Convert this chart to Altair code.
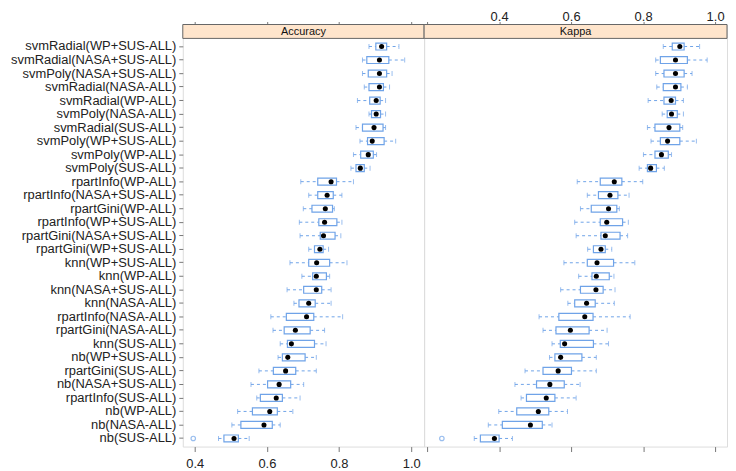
import altair as alt
import pandas as pd

labels = [
    "svmRadial(WP+SUS-ALL)", "svmRadial(NASA+SUS-ALL)", "svmPoly(NASA+SUS-ALL)",
    "svmRadial(NASA-ALL)", "svmRadial(WP-ALL)", "svmPoly(NASA-ALL)",
    "svmRadial(SUS-ALL)", "svmPoly(WP+SUS-ALL)", "svmPoly(WP-ALL)",
    "svmPoly(SUS-ALL)", "rpartInfo(WP-ALL)", "rpartInfo(NASA+SUS-ALL)",
    "rpartGini(WP-ALL)", "rpartInfo(WP+SUS-ALL)", "rpartGini(NASA+SUS-ALL)",
    "rpartGini(WP+SUS-ALL)", "knn(WP+SUS-ALL)", "knn(WP-ALL)",
    "knn(NASA+SUS-ALL)", "knn(NASA-ALL)", "rpartInfo(NASA-ALL)",
    "rpartGini(NASA-ALL)", "knn(SUS-ALL)", "nb(WP+SUS-ALL)",
    "rpartGini(SUS-ALL)", "nb(NASA+SUS-ALL)", "rpartInfo(SUS-ALL)",
    "nb(WP-ALL)", "nb(NASA-ALL)", "nb(SUS-ALL)",
]

# Accuracy: lower whisker, Q1, median, Q3, upper whisker
acc_lw = [0.883, 0.865, 0.865, 0.870, 0.851, 0.883, 0.847, 0.858, 0.840, 0.833,
          0.694, 0.716, 0.701, 0.690, 0.692, 0.716, 0.664, 0.697, 0.656, 0.675,
          0.611, 0.617, 0.637, 0.631, 0.578, 0.556, 0.572, 0.519, 0.503, 0.466]
acc_q1 = [0.902, 0.877, 0.881, 0.883, 0.885, 0.890, 0.865, 0.879, 0.860, 0.847,
          0.741, 0.741, 0.725, 0.744, 0.748, 0.732, 0.716, 0.727, 0.702, 0.689,
          0.654, 0.648, 0.657, 0.643, 0.618, 0.602, 0.582, 0.560, 0.528, 0.481]
acc_med = [0.918, 0.912, 0.912, 0.912, 0.903, 0.903, 0.897, 0.892, 0.881, 0.859,
           0.778, 0.767, 0.762, 0.760, 0.757, 0.747, 0.738, 0.737, 0.737, 0.716,
           0.710, 0.679, 0.668, 0.658, 0.652, 0.634, 0.626, 0.608, 0.592, 0.509]
acc_q3 = [0.932, 0.938, 0.932, 0.923, 0.914, 0.915, 0.922, 0.925, 0.895, 0.870,
          0.793, 0.784, 0.782, 0.794, 0.789, 0.756, 0.774, 0.765, 0.752, 0.734,
          0.730, 0.720, 0.732, 0.706, 0.680, 0.666, 0.643, 0.629, 0.615, 0.521]
acc_uw = [0.966, 0.982, 0.947, 0.940, 0.929, 0.929, 0.929, 0.957, 0.904, 0.886,
          0.840, 0.808, 0.787, 0.808, 0.805, 0.771, 0.822, 0.774, 0.778, 0.778,
          0.810, 0.760, 0.764, 0.737, 0.737, 0.702, 0.692, 0.672, 0.637, 0.551]

# Kappa
kap_lw = [0.856, 0.835, 0.835, 0.838, 0.814, 0.853, 0.812, 0.822, 0.801, 0.789,
          0.617, 0.645, 0.626, 0.610, 0.614, 0.646, 0.580, 0.621, 0.571, 0.591,
          0.511, 0.522, 0.547, 0.540, 0.472, 0.444, 0.461, 0.399, 0.370, 0.331]
kap_q1 = [0.881, 0.848, 0.858, 0.856, 0.858, 0.867, 0.833, 0.848, 0.833, 0.812,
          0.681, 0.676, 0.656, 0.681, 0.683, 0.662, 0.645, 0.658, 0.626, 0.610,
          0.566, 0.558, 0.570, 0.555, 0.522, 0.504, 0.476, 0.449, 0.409, 0.348]
kap_med = [0.902, 0.890, 0.890, 0.890, 0.878, 0.879, 0.872, 0.868, 0.851, 0.821,
           0.720, 0.708, 0.704, 0.699, 0.695, 0.683, 0.672, 0.670, 0.669, 0.643,
           0.638, 0.598, 0.582, 0.571, 0.564, 0.541, 0.531, 0.509, 0.487, 0.387]
kap_q3 = [0.914, 0.923, 0.914, 0.905, 0.890, 0.895, 0.902, 0.902, 0.870, 0.837,
          0.741, 0.730, 0.727, 0.743, 0.736, 0.695, 0.718, 0.706, 0.689, 0.667,
          0.661, 0.650, 0.662, 0.630, 0.601, 0.581, 0.555, 0.538, 0.520, 0.400]
kap_uw = [0.957, 0.978, 0.936, 0.923, 0.912, 0.912, 0.910, 0.948, 0.879, 0.859,
          0.799, 0.761, 0.734, 0.759, 0.757, 0.713, 0.777, 0.719, 0.722, 0.720,
          0.764, 0.700, 0.704, 0.670, 0.670, 0.625, 0.614, 0.590, 0.547, 0.437]

out_labels = ["nb(SUS-ALL)"]
acc_out = [0.396]
kap_out = [0.241]

acc_ticks = [0.4, 0.6, 0.8, 1.0]
kap_ticks = [0.2, 0.4, 0.6, 0.8, 1.0]

BLUE = "#6fa3e8"
FONT = "Liberation Sans"
PANEL_H = 425
STRIP_H = 14


def panel(title, lw, q1, med, q3, uw, outv, domain, width, ticks, left_axis,
          top_labels, bottom_labels):
    df = pd.DataFrame({"label": labels, "lw": lw, "q1": q1, "med": med,
                       "q3": q3, "uw": uw})
    odf = pd.DataFrame({"label": out_labels, "v": outv})
    tdf = pd.DataFrame({"t": ticks})
    xs = alt.Scale(domain=domain, nice=False, zero=False)
    ys = alt.Scale(range=[STRIP_H, PANEL_H], paddingInner=0, paddingOuter=0.1)
    if left_axis:
        yax = alt.Axis(title=None, labelFontSize=13, labelColor="#222",
                       tickSize=4, tickColor="#777", labelPadding=3,
                       domain=False, grid=False, labelLimit=400)
    else:
        yax = None
    y = alt.Y("label:N", sort=labels, scale=ys, axis=yax)
    lab_expr = "datum.value < 0.3 ? '' : format(datum.value, '.1f')"

    def xaxis(orient, show):
        if orient == "top":
            return alt.Axis(orient="top", values=ticks, labels=show,
                            labelExpr=lab_expr, labelFontSize=13,
                            labelColor="#222", labelBaseline="alphabetic",
                            tickSize=3, tickColor="#777", labelPadding=1,
                            domain=False, grid=False, title=None)
        return alt.Axis(orient="bottom", values=ticks, labels=show,
                        labelExpr=lab_expr, labelFontSize=13, labelColor="#222",
                        tickSize=5, tickColor="#777", labelPadding=6,
                        domain=False, grid=False, title=None)

    base = alt.Chart(df)
    whisk_lo = base.mark_rule(color=BLUE, strokeDash=[3, 3], strokeWidth=1).encode(
        x=alt.X("lw:Q", scale=xs, axis=xaxis("bottom", bottom_labels)),
        x2="q1:Q", y=y)
    top_axis = alt.Chart(tdf).mark_point(opacity=0).encode(
        x=alt.X("t:Q", scale=xs, axis=xaxis("top", top_labels)),
        y=alt.value(0))
    whisk_hi = base.mark_rule(color=BLUE, strokeDash=[3, 3], strokeWidth=1).encode(
        x=alt.X("q3:Q", scale=xs, axis=None), x2="uw:Q", y=y)
    cap_lo = base.mark_tick(color=BLUE, size=5, thickness=1).encode(
        x=alt.X("lw:Q", scale=xs, axis=None), y=y)
    cap_hi = base.mark_tick(color=BLUE, size=5, thickness=1).encode(
        x=alt.X("uw:Q", scale=xs, axis=None), y=y)
    box = base.mark_bar(fill="white", stroke=BLUE, strokeWidth=1.2, size=7).encode(
        x=alt.X("q1:Q", scale=xs, axis=None), x2="q3:Q", y=y)
    mdot = base.mark_point(filled=True, color="black", size=26, opacity=1).encode(
        x=alt.X("med:Q", scale=xs, axis=None), y=y)
    outl = alt.Chart(odf).mark_point(color=BLUE, size=20, strokeWidth=1.2).encode(
        x=alt.X("v:Q", scale=xs, axis=None), y=y)
    strip_bg = alt.Chart(pd.DataFrame({"s": [title]})).mark_rect(
        fill="#ffe5cc", stroke="#666", strokeWidth=1).encode(
        x=alt.value(0), x2=alt.value(width), y=alt.value(0), y2=alt.value(STRIP_H))
    strip_tx = alt.Chart(pd.DataFrame({"s": [title]})).mark_text(
        fontSize=11, color="#111", baseline="middle", align="center", font=FONT).encode(
        x=alt.value(width / 2), y=alt.value(STRIP_H / 2 + 0.5), text="s:N")

    return alt.layer(whisk_lo, top_axis, whisk_hi, cap_lo, cap_hi, box, mdot,
                     outl, strip_bg, strip_tx).resolve_axis(x="independent").properties(
        width=width, height=PANEL_H)


pa = panel("Accuracy", acc_lw, acc_q1, acc_med, acc_q3, acc_uw, acc_out,
           [0.367, 1.0358], 243, acc_ticks, True, False, True)
pk = panel("Kappa", kap_lw, kap_q1, kap_med, kap_q3, kap_uw, kap_out,
           [0.1917, 1.0331], 305, kap_ticks, False, True, False)

chart = alt.hconcat(pa, pk, spacing=0, bounds="flush").properties(
    padding={"left": 1, "top": 0, "right": 0, "bottom": 0}
).configure_view(stroke="#666", strokeWidth=1).configure(font=FONT)

chart.save("out.html", embed_options={"renderer": "svg", "actions": False})
